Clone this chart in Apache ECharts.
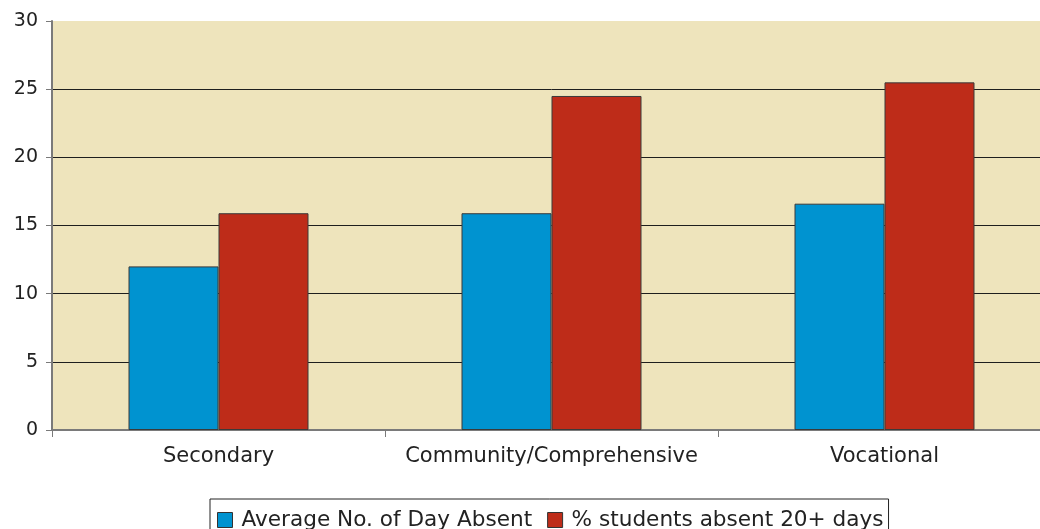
<!DOCTYPE html>
<html>
<head>
<meta charset="utf-8">
<style>
  html, body { margin: 0; padding: 0; background: #ffffff; overflow: hidden; width: 1040px; height: 529px; }
  /* the plot area runs slightly past the right edge of the page */
  #chart { width: 1051px; height: 529px; }
</style>
<script src="https://cdn.jsdelivr.net/npm/echarts@6/dist/echarts.min.js"></script>
</head>
<body>
<div id="chart"></div>
<script>
// School types on the category axis
const categories = ['Secondary', 'Community/Comprehensive', 'Vocational'];
// Average number of days absent per student
const avgDaysAbsent = [12.0, 15.9, 16.6];
// Percentage of students absent 20 or more days
const pctAbsent20 = [15.9, 24.5, 25.5];
// Series names shown in the legend
const seriesNames = ['Average No. of Day Absent', '% students absent 20+ days'];

const FONT = 'Verdana, "DejaVu Sans", sans-serif';
const chart = echarts.init(document.getElementById('chart'), null, { renderer: 'canvas' });

chart.setOption({
  animation: false,
  backgroundColor: '#ffffff',
  grid: {
    left: 52, right: 0, top: 21, bottom: 99,
    show: true, backgroundColor: '#EEE4BC', borderWidth: 0
  },
  legend: {
    left: 210, top: 499,
    orient: 'horizontal',
    padding: [10, 5, 10, 7],
    itemGap: 15,
    itemWidth: 15, itemHeight: 15,
    icon: 'rect',
    borderColor: '#222222', borderWidth: 1,
    textStyle: { fontFamily: FONT, fontSize: 21.6, color: '#222222', padding: [0, 0, 0, 4] },
    data: seriesNames.map(n => ({ name: n, itemStyle: { borderColor: '#333333', borderWidth: 1 } }))
  },
  xAxis: {
    type: 'category',
    data: categories,
    axisLine: { lineStyle: { color: '#7a7a7a', width: 2 } },
    axisTick: { show: true, interval: 0, length: 7, lineStyle: { color: '#7a7a7a', width: 1 } },
    axisLabel: { interval: 0, fontFamily: FONT, fontSize: 21, color: '#222222', margin: 16 }
  },
  yAxis: {
    type: 'value',
    min: 0, max: 30, interval: 5,
    axisLine: { show: true, lineStyle: { color: '#7a7a7a', width: 2 } },
    axisTick: { show: true, length: 6, lineStyle: { color: '#7a7a7a', width: 1 } },
    axisLabel: { fontFamily: FONT, fontSize: 19, color: '#222222', margin: 14 },
    splitLine: { show: true, showMaxLine: false, lineStyle: { color: '#1e1e1e', width: 1 } }
  },
  series: [
    {
      name: seriesNames[0], type: 'bar', data: avgDaysAbsent,
      barWidth: 90, barGap: '0%',
      itemStyle: { color: '#0093D0', borderColor: '#3a3a3a', borderWidth: 1 }
    },
    {
      name: seriesNames[1], type: 'bar', data: pctAbsent20,
      barWidth: 90, barGap: '0%',
      itemStyle: { color: '#BE2C19', borderColor: '#3a3a3a', borderWidth: 1 }
    }
  ]
});
</script>
</body>
</html>
